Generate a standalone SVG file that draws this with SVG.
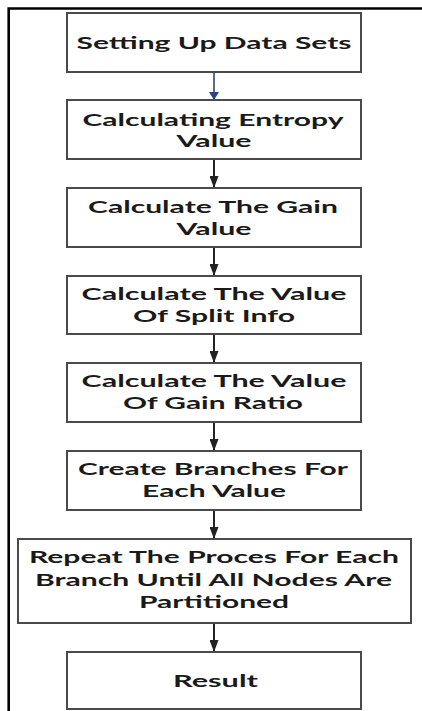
<svg xmlns="http://www.w3.org/2000/svg" width="422" height="711" viewBox="0 0 422 711">
  <defs>
    <style>
      .box { fill: #ffffff; stroke: #4a4a4a; stroke-width: 2; }
      .lbl { font-family: Lato, "Open Sans", "Liberation Sans", sans-serif; font-weight: 700; font-size: 17px; fill: #1a1a1a; text-anchor: middle; }
      .wire { stroke: #222222; stroke-width: 2; fill: none; }
      .wire-blue { stroke: #2b4486; stroke-width: 1.6; fill: none; }
    </style>
    <marker id="head" viewBox="0 0 12 9" refX="12" refY="4.5" markerWidth="12" markerHeight="9" markerUnits="userSpaceOnUse" orient="auto">
      <path d="M0,0 L12,4.5 L0,9 Z" fill="#222222"/>
    </marker>
    <marker id="head-blue" viewBox="0 0 8 10" refX="8" refY="5" markerWidth="8" markerHeight="10" markerUnits="userSpaceOnUse" orient="auto">
      <path d="M0,0 L8,5 L0,10 Z" fill="#2b4486"/>
    </marker>
  </defs>

  <rect width="422" height="711" fill="#ffffff"/>

  <!-- outer frame, open to the right and bottom -->
  <path d="M430,8.5 L8.7,8.5 L8.7,720" fill="none" stroke="#000000" stroke-width="2.6"/>

  <g id="connectors">
    <line class="wire-blue" x1="214" y1="72" x2="214" y2="100" marker-end="url(#head-blue)"/>
    <line class="wire" x1="214" y1="159" x2="214" y2="188" marker-end="url(#head)"/>
    <line class="wire" x1="214" y1="247" x2="214" y2="276" marker-end="url(#head)"/>
    <line class="wire" x1="214" y1="334" x2="214" y2="363" marker-end="url(#head)"/>
    <line class="wire" x1="214" y1="422" x2="214" y2="451" marker-end="url(#head)"/>
    <line class="wire" x1="214" y1="510" x2="214" y2="539" marker-end="url(#head)"/>
    <line class="wire" x1="214" y1="623" x2="214" y2="652" marker-end="url(#head)"/>
  </g>

  <g id="setup">
    <rect class="box" x="67" y="13" width="294" height="59"/>
    <text class="lbl" x="214" y="49" textLength="275" lengthAdjust="spacingAndGlyphs">Setting Up Data Sets</text>
  </g>

  <g id="entropy">
    <rect class="box" x="67" y="100" width="294" height="59"/>
    <text class="lbl" x="213" y="126" textLength="261" lengthAdjust="spacingAndGlyphs">Calculating Entropy</text>
    <text class="lbl" x="214" y="147" textLength="75" lengthAdjust="spacingAndGlyphs">Value</text>
  </g>

  <g id="gain">
    <rect class="box" x="67" y="188" width="294" height="59"/>
    <text class="lbl" x="213" y="213" textLength="250" lengthAdjust="spacingAndGlyphs">Calculate The Gain</text>
    <text class="lbl" x="214" y="235" textLength="75" lengthAdjust="spacingAndGlyphs">Value</text>
  </g>

  <g id="split-info">
    <rect class="box" x="67" y="276" width="294" height="58"/>
    <text class="lbl" x="214" y="300" textLength="265" lengthAdjust="spacingAndGlyphs">Calculate The Value</text>
    <text class="lbl" x="214" y="322" textLength="162" lengthAdjust="spacingAndGlyphs">Of Split Info</text>
  </g>

  <g id="gain-ratio">
    <rect class="box" x="67" y="363" width="294" height="59"/>
    <text class="lbl" x="214" y="387" textLength="265" lengthAdjust="spacingAndGlyphs">Calculate The Value</text>
    <text class="lbl" x="213" y="409" textLength="180" lengthAdjust="spacingAndGlyphs">Of Gain Ratio</text>
  </g>

  <g id="branches">
    <rect class="box" x="67" y="451" width="294" height="59"/>
    <text class="lbl" x="213" y="475" textLength="270" lengthAdjust="spacingAndGlyphs">Create Branches For</text>
    <text class="lbl" x="214" y="497" textLength="144" lengthAdjust="spacingAndGlyphs">Each Value</text>
  </g>

  <g id="repeat">
    <rect class="box" x="18" y="539" width="393" height="84"/>
    <text class="lbl" x="214" y="563" textLength="370" lengthAdjust="spacingAndGlyphs">Repeat The Proces For Each</text>
    <text class="lbl" x="213.5" y="586" textLength="357" lengthAdjust="spacingAndGlyphs">Branch Until All Nodes Are</text>
    <text class="lbl" x="214" y="608" textLength="150" lengthAdjust="spacingAndGlyphs">Partitioned</text>
  </g>

  <g id="result">
    <rect class="box" x="67" y="652" width="294" height="57"/>
    <text class="lbl" x="215.5" y="687" textLength="85" lengthAdjust="spacingAndGlyphs">Result</text>
  </g>
</svg>
